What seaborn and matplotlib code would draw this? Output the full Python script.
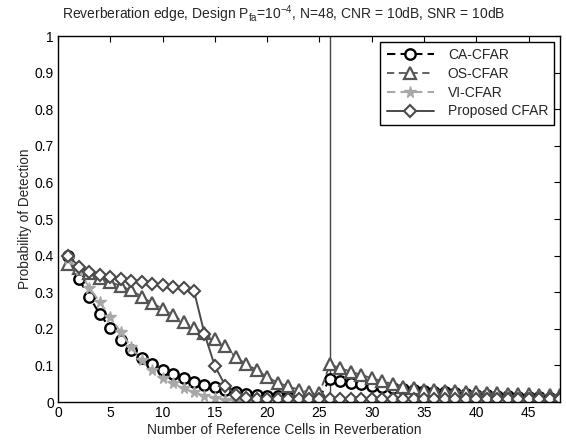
import matplotlib
matplotlib.use("Agg")
import matplotlib.pyplot as plt
import seaborn as sns
import numpy as np
import pandas as pd

cells = list(range(1, 49))

ca_cfar = [0.400, 0.335, 0.287, 0.240, 0.202, 0.170, 0.142, 0.120, 0.103, 0.088,
           0.076, 0.066, 0.056, 0.047, 0.040, 0.032, 0.026, 0.022, 0.019, 0.017,
           0.016, 0.015, 0.014, 0.013, 0.012, 0.063, 0.058, 0.053, 0.049, 0.045,
           0.041, 0.038, 0.035, 0.032, 0.030, 0.028, 0.026, 0.024, 0.022, 0.020,
           0.019, 0.017, 0.016, 0.015, 0.014, 0.013, 0.012, 0.011]

os_cfar = [0.378, 0.365, 0.352, 0.340, 0.328, 0.317, 0.305, 0.288, 0.270, 0.255,
           0.237, 0.218, 0.203, 0.188, 0.172, 0.152, 0.122, 0.104, 0.087, 0.068,
           0.053, 0.043, 0.034, 0.027, 0.024, 0.103, 0.092, 0.083, 0.074, 0.065,
           0.057, 0.049, 0.042, 0.037, 0.034, 0.032, 0.030, 0.029, 0.028, 0.026,
           0.025, 0.024, 0.023, 0.022, 0.021, 0.020, 0.019, 0.018]

vi_cfar = [0.390, 0.360, 0.312, 0.273, 0.232, 0.191, 0.150, 0.114, 0.087, 0.066,
           0.051, 0.038, 0.026, 0.017, 0.010, 0.006, 0.004, 0.003, 0.002, 0.002,
           0.002, 0.002, 0.002, 0.002, 0.002, 0.004, 0.004, 0.004, 0.004, 0.004,
           0.004, 0.004, 0.004, 0.004, 0.004, 0.003, 0.003, 0.003, 0.003, 0.003,
           0.003, 0.003, 0.003, 0.003, 0.003, 0.003, 0.003, 0.003]

proposed = [0.400, 0.370, 0.356, 0.347, 0.341, 0.336, 0.331, 0.327, 0.323, 0.319,
            0.315, 0.311, 0.304, 0.187, 0.098, 0.045, 0.020, 0.010, 0.007, 0.007,
            0.007, 0.007, 0.007, 0.007, 0.007, 0.007, 0.007, 0.007, 0.007, 0.007,
            0.007, 0.007, 0.007, 0.007, 0.007, 0.007, 0.007, 0.007, 0.007, 0.007,
            0.007, 0.007, 0.007, 0.007, 0.007, 0.007, 0.007, 0.007]

edge_cell = 26

x_ticks = [0, 5, 10, 15, 20, 25, 30, 35, 40, 45]
y_ticks = [0, 0.1, 0.2, 0.3, 0.4, 0.5, 0.6, 0.7, 0.8, 0.9, 1]
y_tick_labels = ["0", "0.1", "0.2", "0.3", "0.4", "0.5", "0.6", "0.7", "0.8", "0.9", "1"]

sns.set_style("white")
plt.rcParams['font.family'] = ['Liberation Sans', 'DejaVu Sans']
plt.rcParams['mathtext.fontset'] = 'custom'
plt.rcParams['mathtext.rm'] = 'Liberation Sans'
plt.rcParams['mathtext.it'] = 'Liberation Sans'

fig = plt.figure(figsize=(5.66, 4.44), dpi=100)
ax = fig.add_axes([58 / 566, 42 / 444, 502 / 566, 366 / 444])

series = [
    ("CA-CFAR", ca_cfar, dict(color="black", linestyle=(0, (4, 2.5)), marker="o", markersize=7.5,
                              markerfacecolor="white", markeredgecolor="black",
                              markeredgewidth=1.7, linewidth=1.5)),
    ("OS-CFAR", os_cfar, dict(color="#555555", linestyle=(0, (4, 2.5)), marker="^", markersize=8.5,
                              markerfacecolor="white", markeredgecolor="#555555",
                              markeredgewidth=1.6, linewidth=1.3)),
    ("VI-CFAR", vi_cfar, dict(color="#a8a8a8", linestyle=(0, (4, 2.5)), marker="*", markersize=8.5,
                              markerfacecolor="#a8a8a8", markeredgecolor="#a8a8a8",
                              markeredgewidth=1.0, linewidth=1.5)),
    ("Proposed CFAR", proposed, dict(color="#4a4a4a", linestyle="-", marker="D", markersize=6.3,
                                     markerfacecolor="white", markeredgecolor="#4a4a4a",
                                     markeredgewidth=1.5, linewidth=1.4)),
]

for name, vals, style in series:
    df = pd.DataFrame({"cells": cells, "pd": vals})
    sns.lineplot(data=df, x="cells", y="pd", ax=ax, label=name, **style)

ax.axvline(edge_cell, color="#444444", linewidth=1.0, zorder=1)

ax.set_xlim(0, 48)
ax.set_ylim(0, 1)
ax.set_xticks(x_ticks)
ax.set_xticklabels([str(t) for t in x_ticks])
ax.set_yticks(y_ticks)
ax.set_yticklabels(y_tick_labels)
ax.tick_params(direction="in", top=True, right=True, length=4, width=0.8,
               labelsize=10, colors="black", pad=3)
for sp in ax.spines.values():
    sp.set_color("black")
    sp.set_linewidth(1.0)

ax.set_xlabel("Number of Reference Cells in Reverberation", fontsize=10, labelpad=1)
ax.xaxis.set_label_coords((284 - 58) / 502, -0.058)
ax.set_ylabel("Probability of Detection", fontsize=9.8, labelpad=2)
ax.set_title(r"Reverberation edge, Design P$_{\mathrm{fa}}$=10$^{\mathrm{-4}}$, N=48, CNR = 10dB, SNR = 10dB",
             fontsize=10, pad=12, x=(284 - 58) / 502)

leg = ax.legend(loc="upper right", fontsize=10, frameon=True, fancybox=False,
                edgecolor="black", framealpha=1, handlelength=3.4, handletextpad=1.0,
                borderaxespad=0.4, labelspacing=0.35, borderpad=0.45)
leg.get_frame().set_linewidth(1.0)

fig.savefig("out.png", dpi=100)
